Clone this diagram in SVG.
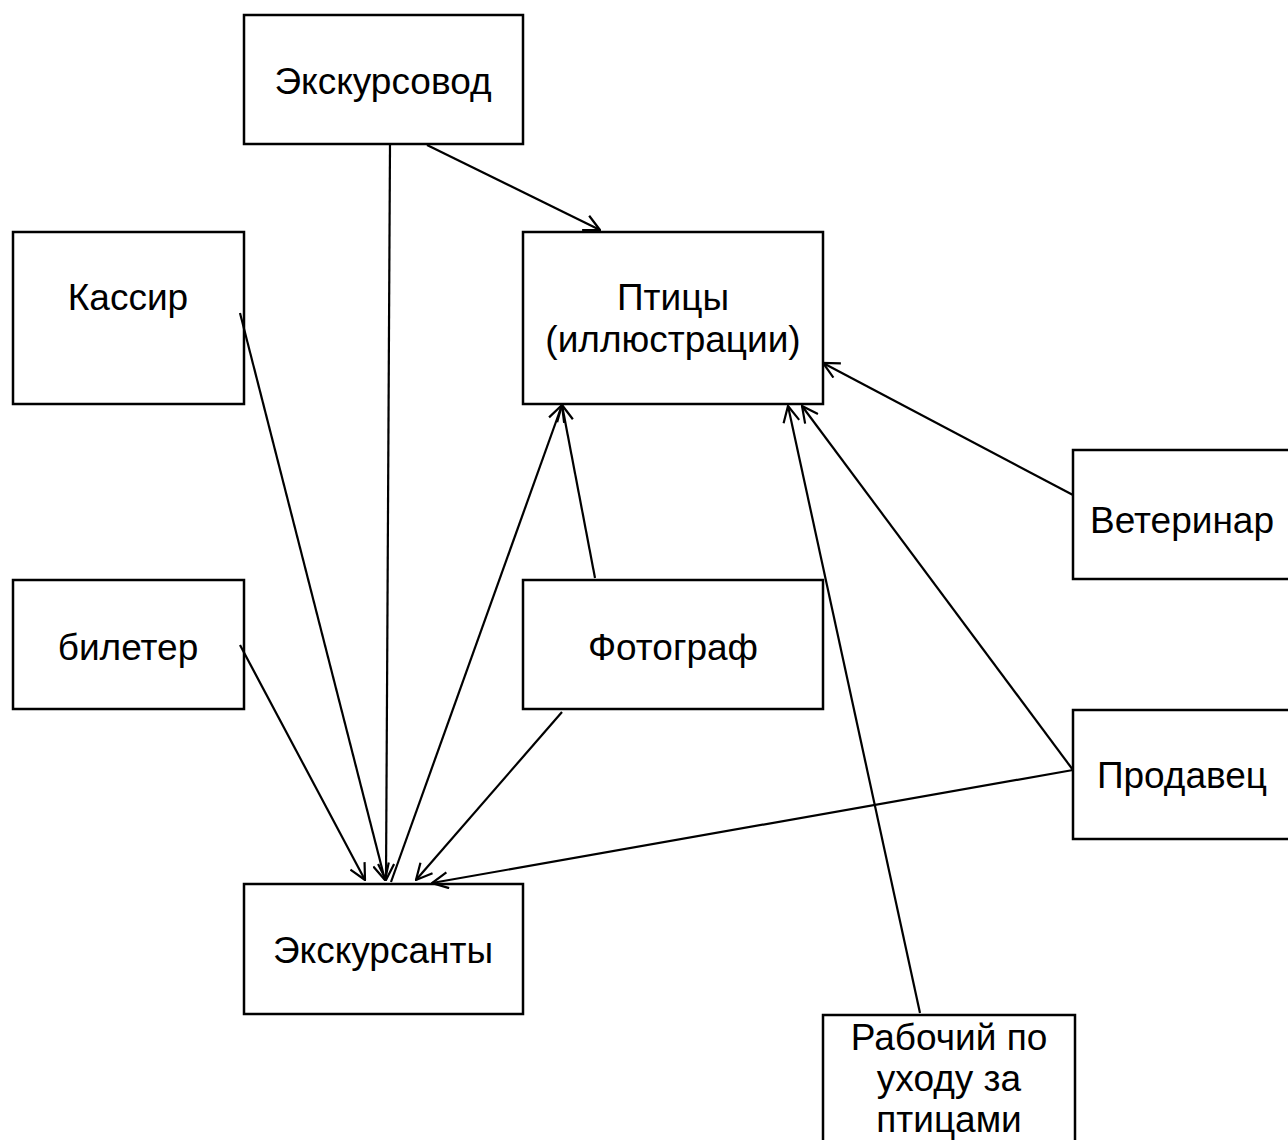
<svg xmlns="http://www.w3.org/2000/svg" width="1288" height="1140" viewBox="0 0 1288 1140">
<style>
.box{fill:#fff;stroke:#000;stroke-width:2.5}
.t{font-family:"Liberation Sans",Arial,sans-serif;font-size:37px;fill:#000;text-anchor:middle}
.c line{stroke:#000;stroke-width:2.2;marker-end:url(#ah)}
</style>
<defs>
<marker id="ah" viewBox="0 0 18 18" refX="17" refY="9" markerWidth="18" markerHeight="18" markerUnits="userSpaceOnUse" orient="auto">
<path d="M1,1 L17,9 L1,17" fill="none" stroke="#000" stroke-width="2.2"/>
</marker>
</defs>
<rect width="1288" height="1140" fill="#fff"/>
<g id="guide"><rect class="box" x="244" y="15" width="279" height="129"/><text class="t" x="383" y="94">Экскурсовод</text></g>
<g id="cashier"><rect class="box" x="13" y="232" width="231" height="172"/><text class="t" x="128" y="310">Кассир</text></g>
<g id="birds"><rect class="box" x="523" y="232" width="300" height="172"/><text class="t" x="673" y="310">Птицы</text><text class="t" x="673" y="352">(иллюстрации)</text></g>
<g id="usher"><rect class="box" x="13" y="580" width="231" height="129"/><text class="t" x="128" y="660">билетер</text></g>
<g id="photographer"><rect class="box" x="523" y="580" width="300" height="129"/><text class="t" x="673" y="660">Фотограф</text></g>
<g id="vet"><rect class="box" x="1073" y="450" width="230" height="129"/><text class="t" x="1182" y="533">Ветеринар</text></g>
<g id="seller"><rect class="box" x="1073" y="710" width="230" height="129"/><text class="t" x="1182" y="788">Продавец</text></g>
<g id="tourists"><rect class="box" x="244" y="884" width="279" height="130"/><text class="t" x="383" y="963">Экскурсанты</text></g>
<g id="worker"><rect class="box" x="823" y="1015" width="252" height="140"/><text class="t" x="949" y="1050">Рабочий по</text><text class="t" x="949" y="1091">уходу за</text><text class="t" x="949" y="1132">птицами</text></g>
<g class="c" id="connectors">
<line x1="427" y1="145" x2="600" y2="230"/>
<line x1="390" y1="145" x2="386" y2="880"/>
<line x1="240" y1="313" x2="385" y2="880"/>
<line x1="240" y1="645" x2="365" y2="880"/>
<line x1="391" y1="882" x2="562" y2="405"/>
<line x1="595" y1="578" x2="562" y2="405"/>
<line x1="562" y1="712" x2="416" y2="880"/>
<line x1="1073" y1="495" x2="823" y2="363"/>
<line x1="1073" y1="770" x2="802" y2="406"/>
<line x1="1073" y1="770" x2="432" y2="883"/>
<line x1="920" y1="1013" x2="788" y2="406"/>
</g>
</svg>
